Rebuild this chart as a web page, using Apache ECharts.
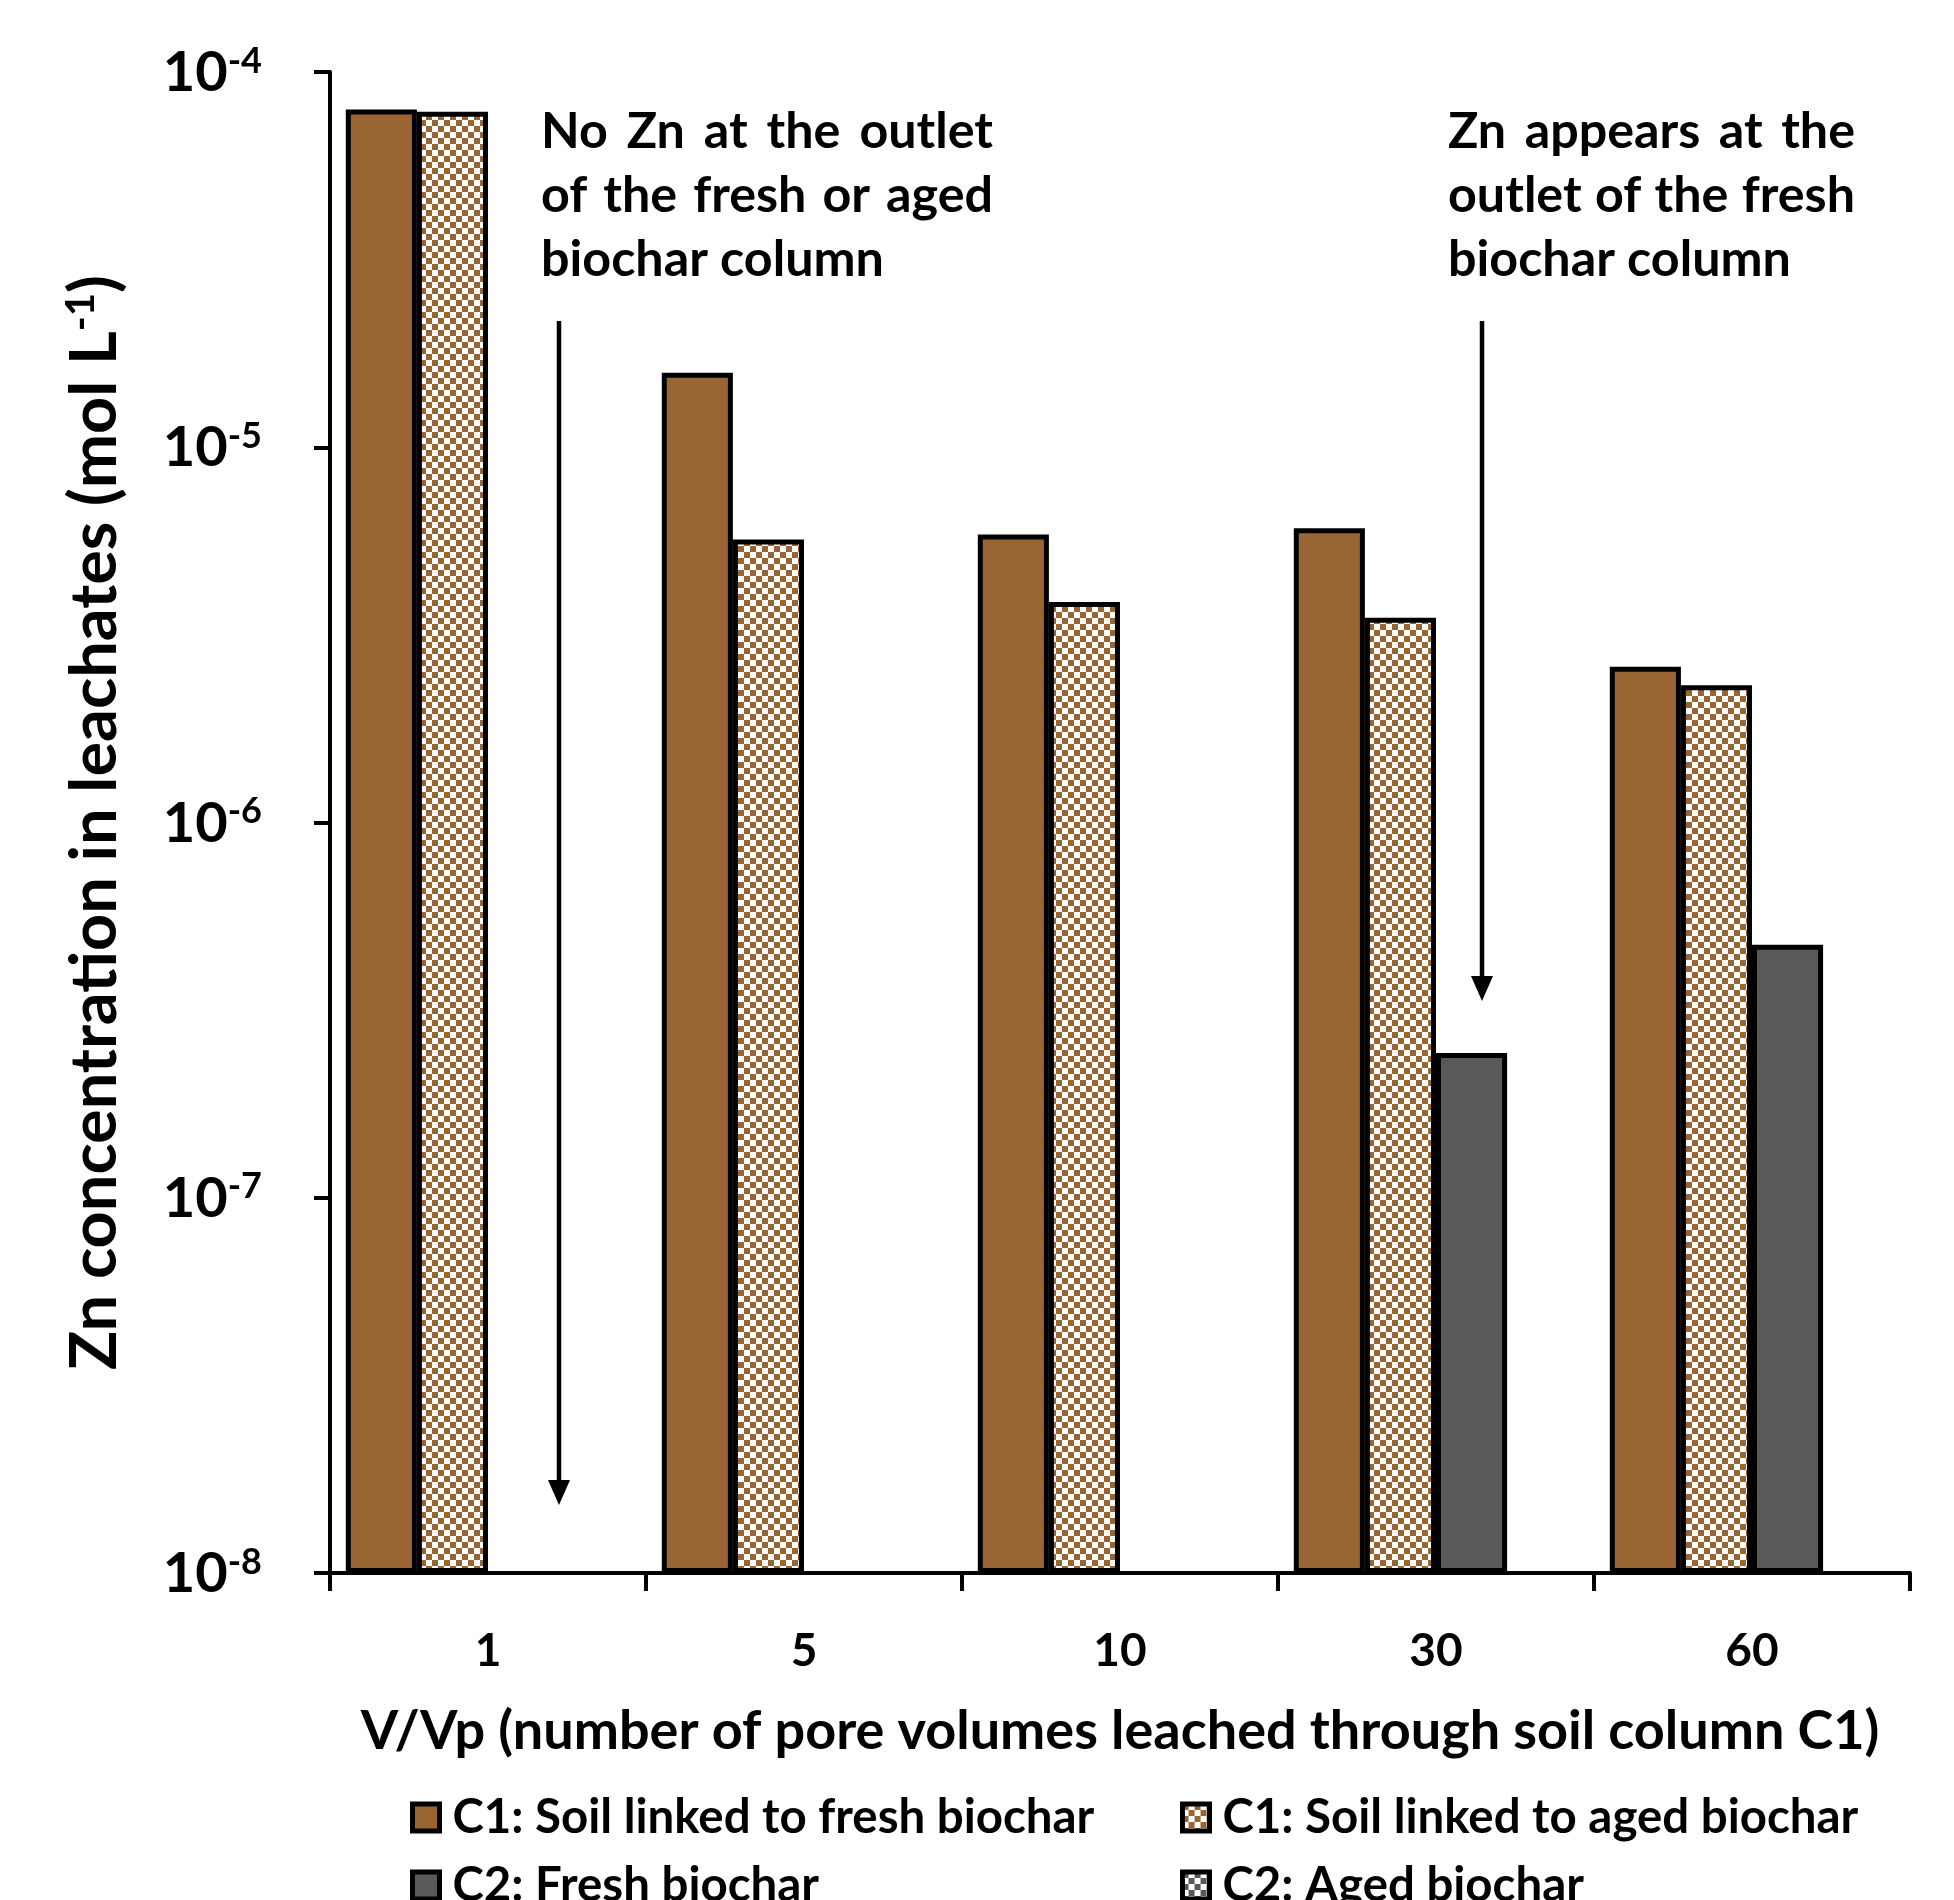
<!DOCTYPE html>
<html><head><meta charset="utf-8">
<script src="https://cdn.jsdelivr.net/npm/echarts@6/dist/echarts.min.js"></script>
<style>html,body{margin:0;padding:0;background:#fff}#c{width:1954px;height:1900px}</style>
</head><body><div id="c"></div>
<script>
// ---------- data ----------
const categories = ['1', '5', '10', '30', '60'];
const seriesNames = ['C1: Soil linked to fresh biochar', 'C1: Soil linked to aged biochar', 'C2: Fresh biochar', 'C2: Aged biochar'];
const c1Fresh = [7.95e-5, 1.58e-5, 5.85e-6, 6.08e-6, 2.60e-6];
const c1Aged  = [7.83e-5, 5.68e-6, 3.87e-6, 3.51e-6, 2.32e-6];
const c2Fresh = [null, null, null, 2.43e-7, 4.72e-7];
const c2Aged  = [null, null, null, null, null];
const yMin = 1e-8, yMax = 1e-4;
const xTitle = 'V/Vp (number of pore volumes leached through soil column C1)';
const yTitleMain = 'Zn concentration in leachates (mol L';
const yTitleSup = '-1';
const noteLeft = ['No Zn at the outlet', 'of the fresh or aged', 'biochar column'];
const noteRight = ['Zn appears at the', 'outlet of the fresh', 'biochar column'];

// ---------- styling helpers ----------
const FONT = 'Lato';
const BROWN = '#996633', GRAY = '#595959';
const mctx = document.createElement('canvas').getContext('2d');
function tw(t, size) { mctx.font = 'bold ' + size + 'px ' + FONT; return mctx.measureText(t).width; }
function fit(t, w) { return 100 * w / tw(t, 100); }
function checker(c) {
  const cv = document.createElement('canvas'); cv.width = 12; cv.height = 12;
  const g = cv.getContext('2d');
  g.fillStyle = '#fff'; g.fillRect(0, 0, 12, 12);
  g.fillStyle = c; g.fillRect(0, 0, 6, 6); g.fillRect(6, 6, 6, 6);
  return { image: cv, repeat: 'repeat' };
}

const xTitleSize = fit(xTitle, 1519);
const yTitleSize = 100 * 1095 / (tw(yTitleMain + ')', 100) + tw(yTitleSup, 62));
const legendSize = fit(seriesNames[0], 642);
const noteSize = fit('biochar column', 343);

// grid in pixels
const G = { left: 330, right: 44, top: 72, bottom: 327 };

// annotation text (justified lines)
function justified(lines, x0, x1, baseY) {
  const els = [];
  lines.forEach((ln, i) => {
    const y = baseY + i * 64;
    const words = ln.split(' ');
    const last = i === lines.length - 1;
    const st = { fill: '#000', fontSize: noteSize, fontWeight: 'bold', fontFamily: FONT, align: 'left', verticalAlign: 'middle' };
    if (last || words.length === 1) {
      els.push({ type: 'text', x: x0, y: y, style: Object.assign({ text: ln }, st) });
      return;
    }
    const ws = words.map(w => tw(w, noteSize));
    const gap = ((x1 - x0) - ws.reduce((a, b) => a + b, 0)) / (words.length - 1);
    let x = x0;
    words.forEach((w, k) => {
      els.push({ type: 'text', x: x, y: y, style: Object.assign({ text: w }, st) });
      x += ws[k] + gap;
    });
  });
  return els;
}
function arrow(x, y0, y1) {
  return [
    { type: 'line', shape: { x1: x, y1: y0, x2: x, y2: y1 - 20 }, style: { stroke: '#000', lineWidth: 4.5 } },
    { type: 'polygon', shape: { points: [[x - 11, y1 - 25], [x + 11, y1 - 25], [x, y1]] }, style: { fill: '#000' } }
  ];
}

const chart = echarts.init(document.getElementById('c'), null, { renderer: 'canvas' });
const barBorder = { borderColor: '#000', borderWidth: 5 };
function legendItem(name, left, top) {
  return {
    data: [name], left: left, top: top, height: 60, orient: 'horizontal', padding: 0,
    itemWidth: 27, itemHeight: 27, selectedMode: false, icon: 'rect',
    itemStyle: { borderColor: '#000', borderWidth: 5 },
    textStyle: { fontSize: legendSize, fontWeight: 'bold', fontFamily: FONT, color: '#000', lineHeight: 36, padding: [0, 0, 0, 8] }
  };
}

chart.setOption({
  animation: false,
  backgroundColor: '#fff',
  grid: Object.assign({ containLabel: false, outerBoundsMode: 'none' }, G),
  legend: [
    legendItem(seriesNames[0], 410, 1794),
    legendItem(seriesNames[1], 1180, 1794),
    legendItem(seriesNames[2], 410, 1862),
    legendItem(seriesNames[3], 1180, 1862)
  ],
  xAxis: {
    type: 'category', data: categories, boundaryGap: true,
    axisLine: { lineStyle: { color: '#000', width: 4 } },
    axisTick: { show: true, alignWithLabel: false, length: 18, lineStyle: { color: '#000', width: 4 } },
    axisLabel: { interval: 0, margin: 55, fontSize: 46, fontWeight: 'bold', fontFamily: FONT, color: '#000' },
    name: xTitle, nameLocation: 'middle', nameGap: 132,
    nameTextStyle: { fontSize: xTitleSize, fontWeight: 'bold', fontFamily: FONT, color: '#000' },
    splitLine: { show: false }
  },
  yAxis: {
    type: 'log', logBase: 10, min: yMin, max: yMax, startValue: yMin,
    axisLine: { show: true, lineStyle: { color: '#000', width: 4 } },
    axisTick: { show: true, inside: false, length: 16, lineStyle: { color: '#000', width: 4 } },
    minorTick: { show: false }, splitLine: { show: false }, minorSplitLine: { show: false },
    axisLabel: {
      margin: 68,
      formatter: v => '{b|10}{s|' + Math.round(Math.log10(v)) + '}',
      rich: {
        b: { fontSize: 56, fontWeight: 'bold', fontFamily: FONT, color: '#000', lineHeight: 58, verticalAlign: 'bottom' },
        s: { fontSize: 36, fontWeight: 'bold', fontFamily: FONT, color: '#000', lineHeight: 58, verticalAlign: 'top', padding: [0, 0, 18, 0] }
      }
    },
    name: '{t|' + yTitleMain + '}{s|' + yTitleSup + '}{t|)}', nameLocation: 'middle', nameGap: 200,
    nameTextStyle: {
      rich: {
        t: { fontSize: yTitleSize, fontWeight: 'bold', fontFamily: FONT, color: '#000' },
        s: { fontSize: yTitleSize * 0.62, fontWeight: 'bold', fontFamily: FONT, color: '#000', padding: [0, 0, yTitleSize * 0.45, 0] }
      }
    }
  },
  series: [
    { name: seriesNames[0], type: 'bar', data: c1Fresh, barGap: '0%', barCategoryGap: '10%', itemStyle: Object.assign({ color: BROWN }, barBorder) },
    { name: seriesNames[1], type: 'bar', data: c1Aged, itemStyle: Object.assign({ color: checker(BROWN) }, barBorder) },
    { name: seriesNames[2], type: 'bar', data: c2Fresh, itemStyle: Object.assign({ color: GRAY }, barBorder) },
    { name: seriesNames[3], type: 'bar', data: c2Aged, itemStyle: Object.assign({ color: checker(GRAY) }, barBorder) }
  ],
  graphic: [].concat(
    justified(noteLeft, 541, 993, 132),
    justified(noteRight, 1448, 1855, 132),
    arrow(559, 321, 1505),
    arrow(1482, 321, 1001)
  )
});
</script></body></html>
